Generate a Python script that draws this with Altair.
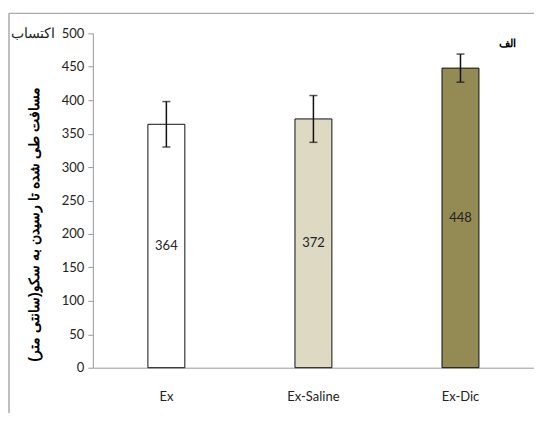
import altair as alt
import pandas as pd

groups = ["Ex", "Ex-Saline", "Ex-Dic"]
means = [364, 372, 448]
errors = [34, 35, 21]
colors = ["#FFFFFF", "#DDD9C3", "#948A54"]

df = pd.DataFrame({
    "group": groups,
    "mean": means,
    "lo": [m - e for m, e in zip(means, errors)],
    "hi": [m + e for m, e in zip(means, errors)],
    "half": [m / 2 for m in means],
})

FONT = "Lato"
YTITLE = "مسافت طی شده تا رسیدن به سکو(سانتی متر)"

xaxis = alt.Axis(labelAngle=0, ticks=False, labelPadding=23, labelFontSize=13,
                 labelColor="#222222", domainColor="#999999", labelFont=FONT)
xscale = alt.Scale(paddingInner=0, paddingOuter=0)
yaxis = alt.Axis(tickCount=10, grid=False, tickSize=5,
                 labelOverlap=False, labelSeparation=0,
                 tickColor="#999999", domainColor="#999999", labelFontSize=13,
                 labelColor="#222222", labelFont=FONT, labelPadding=4,
                 titleFont="Liberation Sans", titleFontSize=14.5, titleFontWeight="bold",
                 titleColor="#000000", titleX=-58, titleY=191,
                 titleAlign="center", titleBaseline="middle", titleAngle=270)
yscale = alt.Scale(domain=[0, 500], nice=False)


def X():
    return alt.X("group:N", sort=groups, title=None, scale=xscale, axis=xaxis)


def Y(field):
    return alt.Y(field, title=YTITLE, scale=yscale, axis=yaxis)


bars = alt.Chart(df).mark_bar(size=37, stroke="#111111", strokeWidth=1).encode(
    x=X(),
    y=Y("mean:Q"),
    fill=alt.Fill("group:N", scale=alt.Scale(domain=groups, range=colors), legend=None),
)

err = alt.Chart(df).mark_rule(color="#111111", strokeWidth=1.5).encode(
    x=X(), y=Y("lo:Q"), y2="hi:Q")
cap_hi = alt.Chart(df).mark_tick(color="#111111", size=8, thickness=1.5).encode(
    x=X(), y=Y("hi:Q"))
cap_lo = alt.Chart(df).mark_tick(color="#111111", size=8, thickness=1.5).encode(
    x=X(), y=Y("lo:Q"))

labels = alt.Chart(df).mark_text(fontSize=13, color="#222222", font=FONT).encode(
    x=X(), y=Y("half:Q"), text=alt.Text("mean:Q"))

corner = alt.Chart(pd.DataFrame({"t": ["اکتساب"]})).mark_text(
    fontSize=14, font="Liberation Sans", color="#222222", align="right", baseline="middle"
).encode(x=alt.value(-38), y=alt.value(1), text="t:N")

tag = alt.Chart(pd.DataFrame({"t": ["الف"]})).mark_text(
    fontSize=11, font="Liberation Sans", fontWeight="bold", color="#000000",
    align="center", baseline="middle"
).encode(x=alt.value(415), y=alt.value(11), text="t:N")

frame_top = alt.Chart(pd.DataFrame({"a": [0]})).mark_rule(color="#AAAAAA", strokeWidth=1.5).encode(
    x=alt.value(-84), x2=alt.value(460), y=alt.value(-20))
frame_left = alt.Chart(pd.DataFrame({"a": [0]})).mark_rule(color="#AAAAAA", strokeWidth=1.5).encode(
    x=alt.value(-84), y=alt.value(-20), y2=alt.value(400))

chart = alt.layer(bars, err, cap_hi, cap_lo, labels, corner, tag, frame_top, frame_left).properties(
    width=442, height=335,
    autosize=alt.AutoSizeParams(type="none"),
    padding={"left": 85, "top": 25, "right": 0, "bottom": 45},
    background="#FFFFFF",
).configure_view(stroke=None)

chart.save("out.html", embed_options={"renderer": "svg", "actions": False})
